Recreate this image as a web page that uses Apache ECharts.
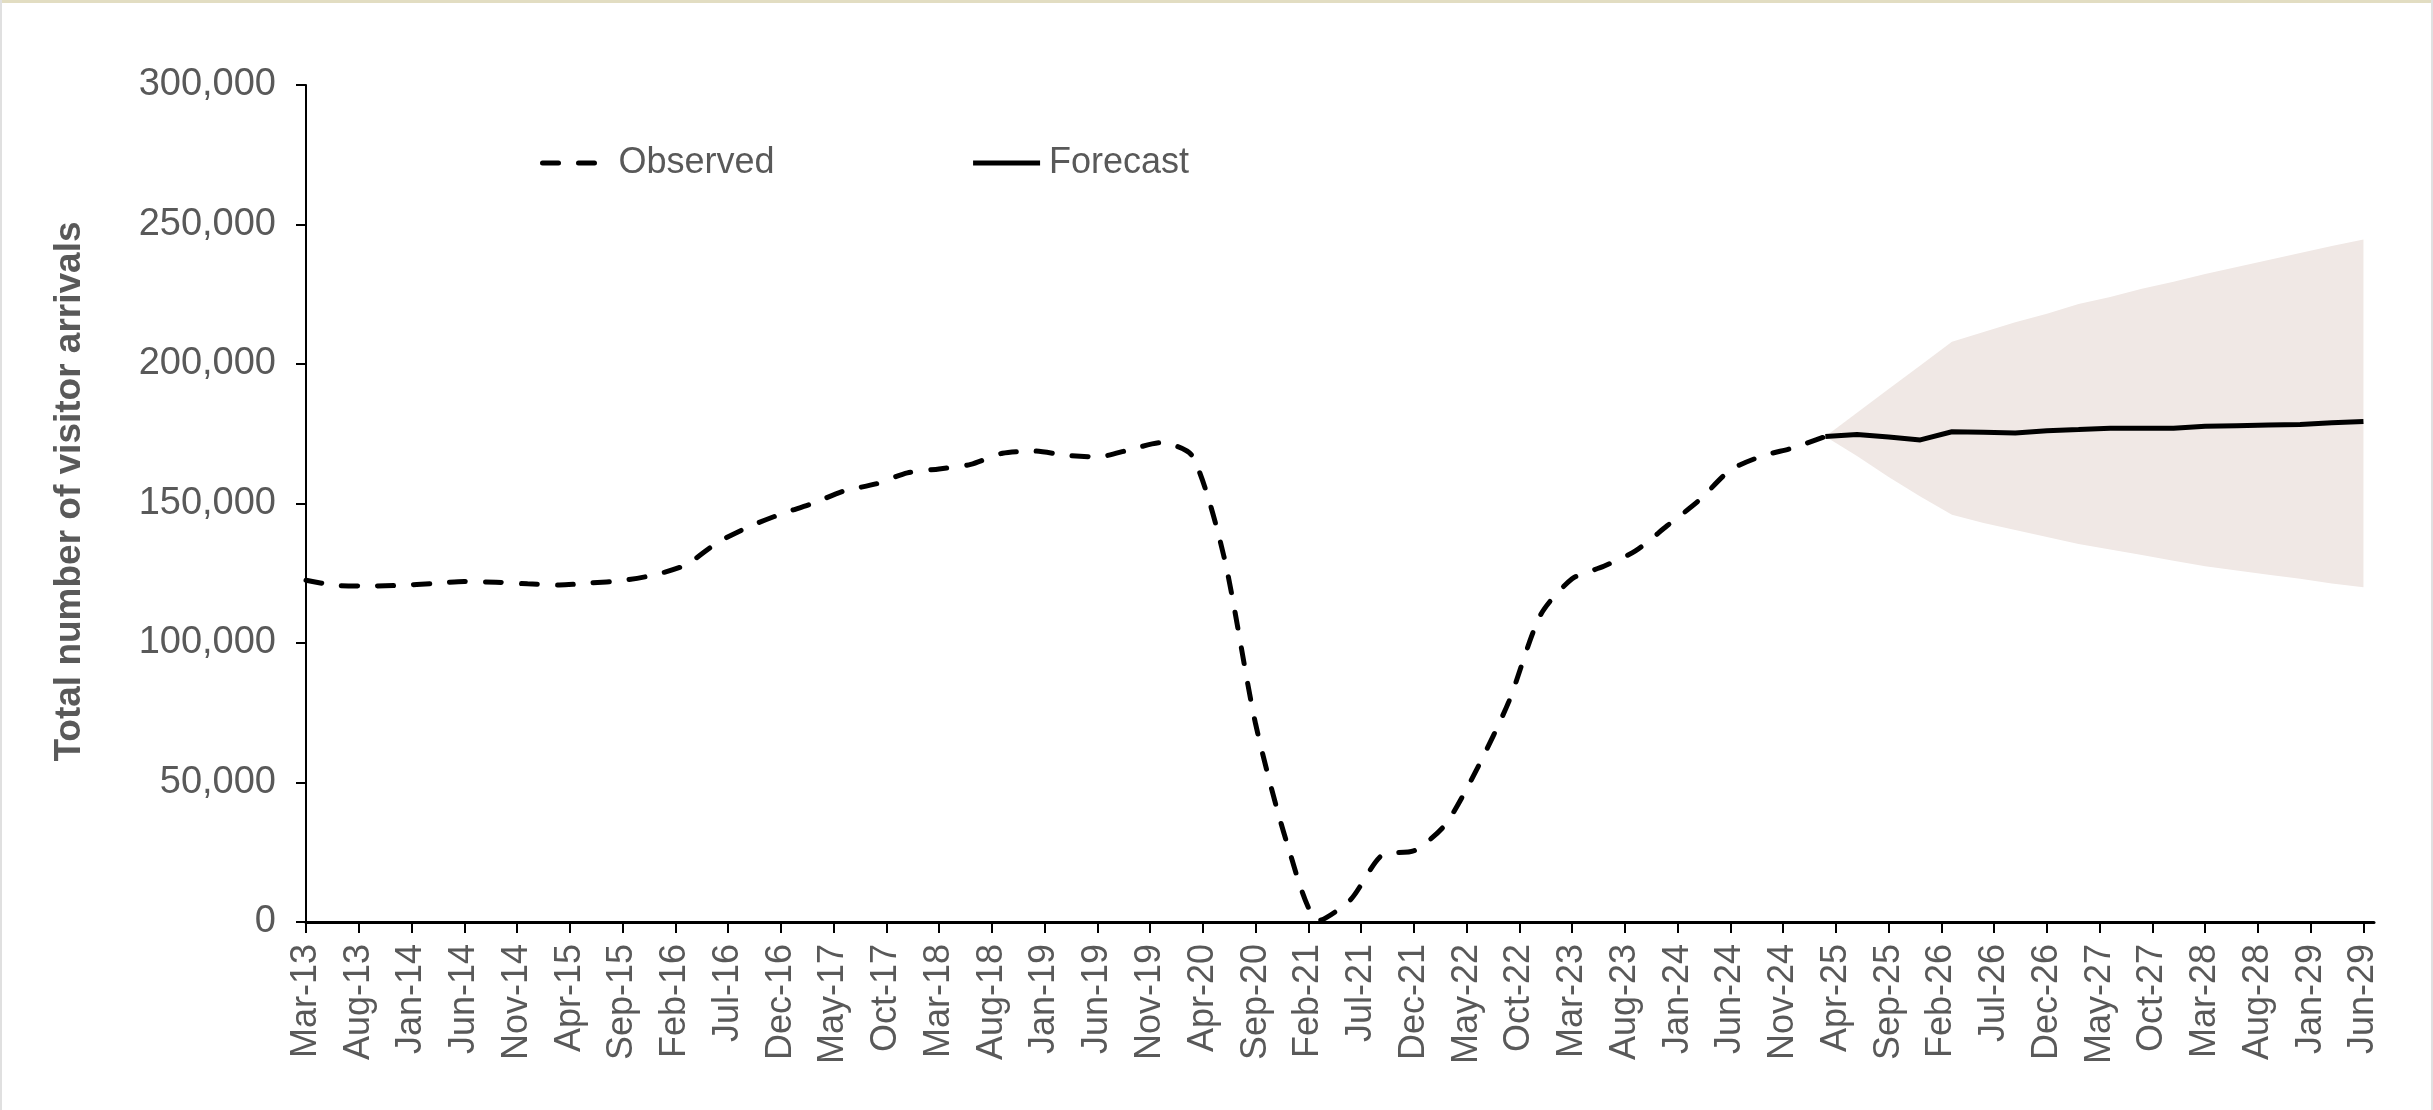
<!DOCTYPE html>
<html>
<head>
<meta charset="utf-8">
<script src="https://cdn.jsdelivr.net/npm/echarts@6/dist/echarts.min.js"></script>
<style>
    html, body { margin: 0; padding: 0; background: #fff; }
    #chart { width: 2433px; height: 1110px; }
</style>
</head>
<body>
<div id="chart"></div>
<script>
// month names used for the category labels
const monthNames = ['Jan', 'Feb', 'Mar', 'Apr', 'May', 'Jun', 'Jul', 'Aug', 'Sep', 'Oct', 'Nov', 'Dec'];

// axis runs monthly from Mar-13 to Jul-29, labels every 5 months
const firstYear = 2013;
const firstMonth = 2;
const monthCount = 197;

// observed arrivals, quarterly from Mar-13 to Mar-25
const observed = [
    122500, 120600, 120400, 120700,
    121300, 122000, 121800, 121200,
    120800, 121500, 122400, 124400,
    128000, 136000, 141700, 146200,
    150000, 154500, 157000, 161000,
    162400, 164000, 168000, 168800,
    167300, 166700, 169200, 171800,
    167000, 131000, 71000, 28000,
    500, 8000, 24000, 25500,
    35000, 55000, 79000, 110000,
    123000, 127500, 133000, 142000,
    151000, 162000, 167000, 170000,
    174000
];

// forecast, quarterly from Mar-25 to Jun-29
const forecast = [
    174000, 174700, 173800, 172800,
    175700, 175500, 175300, 176100,
    176500, 177000, 177000, 177000,
    177700, 177900, 178100, 178300,
    178900, 179400
];

// forecast interval, same quarters as forecast
const upperBound = [
    174000, 182500, 191000, 199500,
    208000, 211500, 215000, 218000,
    221500, 224000, 227000, 229500,
    232300, 234800, 237300, 239800,
    242300, 244600
];
const lowerBound = [
    174000, 167000, 159500, 152500,
    146000, 143000, 140500, 138000,
    135500, 133500, 131500, 129500,
    127500, 126000, 124500, 123000,
    121300, 120000
];

const forecastStart = 144; // Mar-25 as month index

const months = [];
for (let i = 0; i < monthCount; i++) {
    const m = (firstMonth + i) % 12;
    const y = firstYear + Math.floor((firstMonth + i) / 12);
    months.push(monthNames[m] + '-' + String(y).slice(2));
}

// put quarterly values on the monthly axis
function toMonthly(values, start) {
    const out = new Array(monthCount).fill(null);
    values.forEach((v, i) => {
        out[start + i * 3] = v;
    });
    return out;
}

const font = "'Liberation Sans', Arial, sans-serif";
const grey = '#595959';
const everyFifth = (index) => index % 5 === 0;
const dash = [16, 20];

const chart = echarts.init(document.getElementById('chart'));

chart.setOption({
    animation: false,
    backgroundColor: '#fff',
    textStyle: { fontFamily: font },
    grid: { left: 306, right: 59, top: 85, bottom: 188 },
    legend: {
        data: [
            { name: 'Observed', lineStyle: { color: '#000', width: 5, type: dash, cap: 'round' } },
            { name: 'Forecast', lineStyle: { color: '#000', width: 5, type: 'solid' } }
        ],
        left: 535,
        top: 140,
        itemWidth: 67,
        itemHeight: 14,
        itemGap: 196,
        itemStyle: { opacity: 0, borderWidth: 0 },
        textStyle: { fontFamily: font, fontSize: 36, color: grey, padding: [0, 0, 0, 4] }
    },
    xAxis: {
        type: 'category',
        data: months,
        boundaryGap: false,
        z: 5,
        axisLine: { lineStyle: { color: '#000', width: 3 } },
        axisTick: { interval: everyFifth, length: 11, lineStyle: { color: '#000', width: 2 } },
        axisLabel: {
            interval: everyFifth,
            rotate: 90,
            margin: 22,
            fontFamily: font,
            fontSize: 36,
            color: grey
        },
        splitLine: { show: false }
    },
    yAxis: {
        type: 'value',
        min: 0,
        max: 300000,
        interval: 50000,
        name: 'Total number of visitor arrivals',
        nameLocation: 'middle',
        nameGap: 218,
        nameTextStyle: {
            fontFamily: font,
            fontSize: 37,
            fontWeight: 'bold',
            color: grey,
            padding: [0, 0, 0, 24]
        },
        axisLine: { show: true, lineStyle: { color: '#000', width: 2 } },
        axisTick: { show: true, length: 10, lineStyle: { color: '#000', width: 2 } },
        axisLabel: {
            margin: 30,
            fontFamily: font,
            fontSize: 38,
            color: grey,
            formatter: (v) => v.toLocaleString('en-US')
        },
        splitLine: { show: false }
    },
    series: [
        {
            name: 'Interval',
            type: 'custom',
            z: 1,
            silent: true,
            data: [[forecastStart, 0]],
            renderItem: (params, api) => {
                const pts = [];
                upperBound.forEach((v, i) => pts.push(api.coord([forecastStart + i * 3, v])));
                for (let i = lowerBound.length - 1; i >= 0; i--) {
                    pts.push(api.coord([forecastStart + i * 3, lowerBound[i]]));
                }
                return {
                    type: 'polygon',
                    shape: { points: pts },
                    style: { fill: '#F0E8E5' }
                };
            }
        },
        {
            name: 'Observed',
            type: 'line',
            z: 3,
            data: toMonthly(observed, 0),
            connectNulls: true,
            smooth: 0.25,
            showSymbol: false,
            symbol: 'none',
            lineStyle: { color: '#000', width: 5, type: dash, cap: 'round' },
            itemStyle: { color: '#000' }
        },
        {
            name: 'Forecast',
            type: 'line',
            z: 4,
            data: toMonthly(forecast, forecastStart),
            connectNulls: true,
            showSymbol: false,
            symbol: 'none',
            lineStyle: { color: '#000', width: 5 },
            itemStyle: { color: '#000' }
        }
    ],
    graphic: [
        { type: 'rect', left: 0, top: 0, shape: { width: 2433, height: 3 }, style: { fill: '#E2DDC2' }, z: 10 },
        { type: 'rect', left: 0, top: 0, shape: { width: 2, height: 1110 }, style: { fill: '#E0E0E0' }, z: 10 },
        { type: 'rect', right: 0, top: 0, shape: { width: 2, height: 1110 }, style: { fill: '#E0E0E0' }, z: 10 }
    ]
});
</script>
</body>
</html>
